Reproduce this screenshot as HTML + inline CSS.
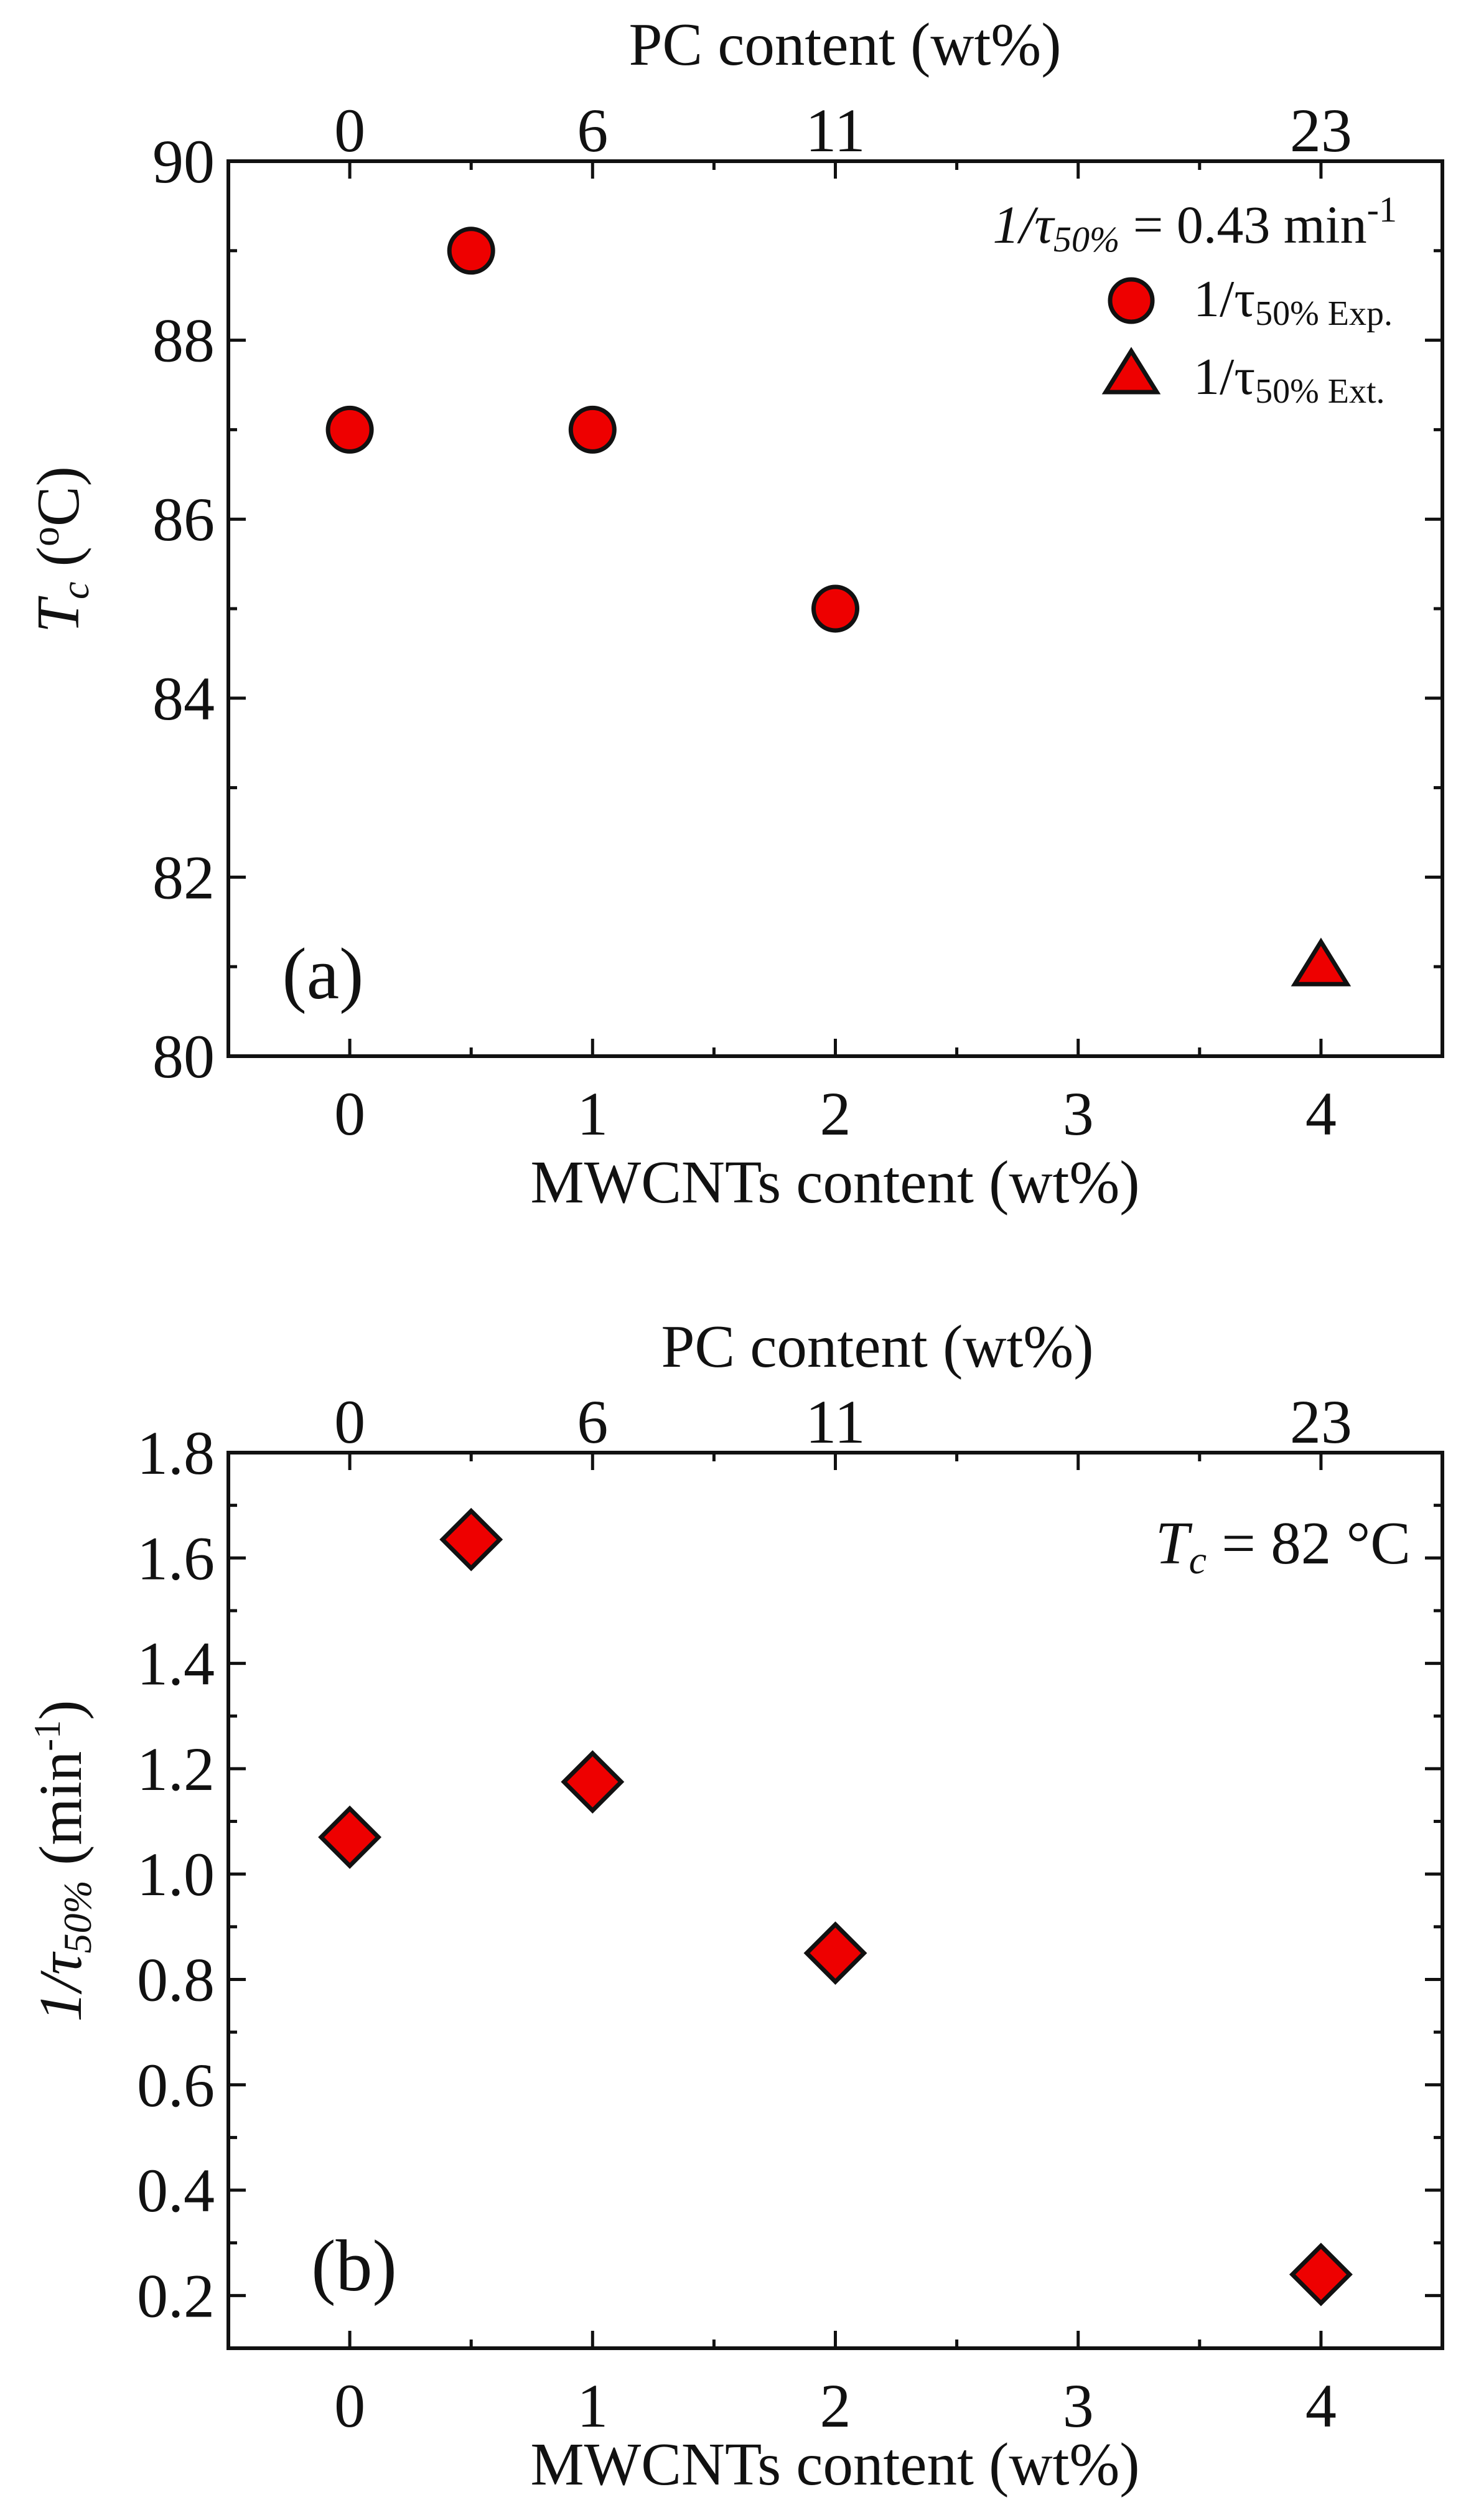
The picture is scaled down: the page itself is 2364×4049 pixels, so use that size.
<!DOCTYPE html>
<html><head><meta charset="utf-8"><style>
html,body{margin:0;padding:0;background:#fff}
svg{display:block}
text{font-family:"Liberation Serif",serif;fill:#111}
</style></head><body>
<svg id="fig" width="2364" height="4049" viewBox="0 0 2364 4049"></svg>
<script>
const xCats = [0, 0.5, 1, 2];
const tcExp = [87, 89, 87, 85];
const tcExtX = [4];
const tcExt = [81];
const rateX = [0, 0.5, 1, 2, 4];
const rateVals = [1.07, 1.635, 1.175, 0.85, 0.24];
const xTicks = [0, 1, 2, 3, 4];
const pcTickPos = [0, 1, 2, 4];
const pcTickLabels = ["0", "6", "11", "23"];
const yTicksA = [80, 82, 84, 86, 88, 90];
const yTicksB = [0.2, 0.4, 0.6, 0.8, 1.0, 1.2, 1.4, 1.6, 1.8];

const NS = "http://www.w3.org/2000/svg";
const svg = document.getElementById('fig');
function el(tag, attrs, parent) {
  const e = document.createElementNS(NS, tag);
  for (const k in attrs) e.setAttribute(k, attrs[k]);
  (parent || svg).appendChild(e);
  return e;
}
const L = 367, R = 2318;
const xs = v => L + (v + 0.5) / 5 * (R - L);
const TF = 100;

function panel(name, top, bot, y0, y1, yTicks, yMinorStep, fmt) {
  const g = el('g', {});
  
  
  const ys = v => bot - (v - y0) / (y1 - y0) * (bot - top);
  const frame = el('rect', {x: L, y: top, width: R - L, height: bot - top, fill: 'none', stroke: '#111', 'stroke-width': 6}, g);
  
  
  for (let v = -0.5; v <= 4.5001; v += 0.5) {
    if (v <= -0.5 || v >= 4.5) continue;
    const major = Math.abs(v - Math.round(v)) < 1e-6;
    const len = major ? 28 : 14;
    el('line', {x1: xs(v), x2: xs(v), y1: bot, y2: bot - len, stroke: '#111', 'stroke-width': 5}, g);
    el('line', {x1: xs(v), x2: xs(v), y1: top, y2: top + len, stroke: '#111', 'stroke-width': 5}, g);
  }
  xTicks.forEach(v => {
    const t = el('text', {x: xs(v), y: bot + 126, 'font-size': TF, 'text-anchor': 'middle'}, g);
    t.textContent = v;
    
    
  });
  pcTickPos.forEach((v, i) => {
    const t = el('text', {x: xs(v), y: top - 16, 'font-size': TF, 'text-anchor': 'middle'}, g);
    t.textContent = pcTickLabels[i];
    
    
  });
  for (let v = y0; v <= y1 + 1e-6; v += yMinorStep) {
    const isMajor = yTicks.some(t => Math.abs(t - v) < 1e-6);
    if (Math.abs(v - y0) < 1e-6 && !isMajor) continue;
    const len = isMajor ? 28 : 14;
    el('line', {x1: L, x2: L + len, y1: ys(v), y2: ys(v), stroke: '#111', 'stroke-width': 5}, g);
    el('line', {x1: R, x2: R - len, y1: ys(v), y2: ys(v), stroke: '#111', 'stroke-width': 5}, g);
  }
  yTicks.forEach(v => {
    const t = el('text', {x: 345, y: ys(v) + 34, 'font-size': TF, 'text-anchor': 'end'}, g);
    t.textContent = fmt(v);
    
    
  });
  return {g, ys};
}

// Panel A
const A = panel('panel-a', 259, 1697, 80, 90, yTicksA, 1, v => v);
let t;
t = el('text', {x: 1358, y: 104, 'font-size': 97, 'text-anchor': 'middle'}, A.g);
t.textContent = 'PC content (wt%)';
 
t = el('text', {x: 1342, y: 1932, 'font-size': 97, 'text-anchor': 'middle'}, A.g);
t.textContent = 'MWCNTs content (wt%)';
 
t = el('text', {x: 0, y: 0, 'font-size': 97, 'text-anchor': 'middle', transform: 'translate(126,883) rotate(-90)'}, A.g);
t.innerHTML = '<tspan font-style="italic">T</tspan><tspan font-style="italic" font-size="64" dy="16">c</tspan><tspan dy="-16"> (</tspan><tspan font-size="64" dy="-32">o</tspan><tspan dy="32">C)</tspan>';
 
t = el('text', {x: 519, y: 1604, 'font-size': 118, 'text-anchor': 'middle'}, A.g);
t.textContent = '(a)';
 
t = el('text', {x: 2245, y: 390, 'font-size': 86, 'text-anchor': 'end'}, A.g);
t.innerHTML = '<tspan font-style="italic">1/τ</tspan><tspan font-style="italic" font-size="58" dy="14">50%</tspan><tspan dy="-14"> = 0.43 min</tspan><tspan font-size="58" dy="-34">-1</tspan>';
 
let m = el('circle', {cx: 1818, cy: 483, r: 34, fill: '#e00', stroke: '#111', 'stroke-width': 7}, A.g);
 
t = el('text', {x: 1918, y: 508, 'font-size': 84}, A.g);
t.innerHTML = '1/τ<tspan font-size="56" dy="14">50% Exp.</tspan>';
 
m = el('polygon', {points: '1818,564 1859,630 1777,630', fill: '#e00', stroke: '#111', 'stroke-width': 7}, A.g);
 
t = el('text', {x: 1918, y: 633, 'font-size': 84}, A.g);
t.innerHTML = '1/τ<tspan font-size="56" dy="14">50% Ext.</tspan>';
 
xCats.forEach((x, i) => {
  const c = el('circle', {cx: xs(x), cy: A.ys(tcExp[i]), r: 35, fill: '#e00', stroke: '#111', 'stroke-width': 7}, A.g);
  
  
});
tcExtX.forEach((x, i) => {
  const cx = xs(x), cy = A.ys(tcExt[i]);
  const p = el('polygon', {points: `${cx},${cy-40} ${cx+42},${cy+28} ${cx-42},${cy+28}`, fill: '#e00', stroke: '#111', 'stroke-width': 7}, A.g);
  
  
});

// Panel B
const B = panel('panel-b', 2334, 3773, 0.1, 1.8, yTicksB, 0.1, v => v.toFixed(1));
t = el('text', {x: 1410, y: 2196, 'font-size': 97, 'text-anchor': 'middle'}, B.g);
t.textContent = 'PC content (wt%)';
 
t = el('text', {x: 1342, y: 3992, 'font-size': 97, 'text-anchor': 'middle'}, B.g);
t.textContent = 'MWCNTs content (wt%)';
 
t = el('text', {x: 0, y: 0, 'font-size': 97, 'text-anchor': 'middle', transform: 'translate(130,2990) rotate(-90)'}, B.g);
t.innerHTML = '<tspan font-style="italic">1/τ</tspan><tspan font-style="italic" font-size="64" dy="16">50%</tspan><tspan dy="-16"> (min</tspan><tspan font-size="60" dy="-34">-1</tspan><tspan dy="34">)</tspan>';
 
t = el('text', {x: 569, y: 3680, 'font-size': 118, 'text-anchor': 'middle'}, B.g);
t.textContent = '(b)';
 
t = el('text', {x: 2267, y: 2512, 'font-size': 97, 'text-anchor': 'end'}, B.g);
t.innerHTML = '<tspan font-style="italic">T</tspan><tspan font-style="italic" font-size="64" dy="16">c</tspan><tspan dy="-16"> = 82 °C</tspan>';
 
rateX.forEach((x, i) => {
  const cx = xs(x), cy = B.ys(rateVals[i]), d = 46;
  const p = el('polygon', {points: `${cx},${cy-d} ${cx+d},${cy} ${cx},${cy+d} ${cx-d},${cy}`, fill: '#e00', stroke: '#111', 'stroke-width': 7}, B.g);
  
  
});
</script>
</body></html>
